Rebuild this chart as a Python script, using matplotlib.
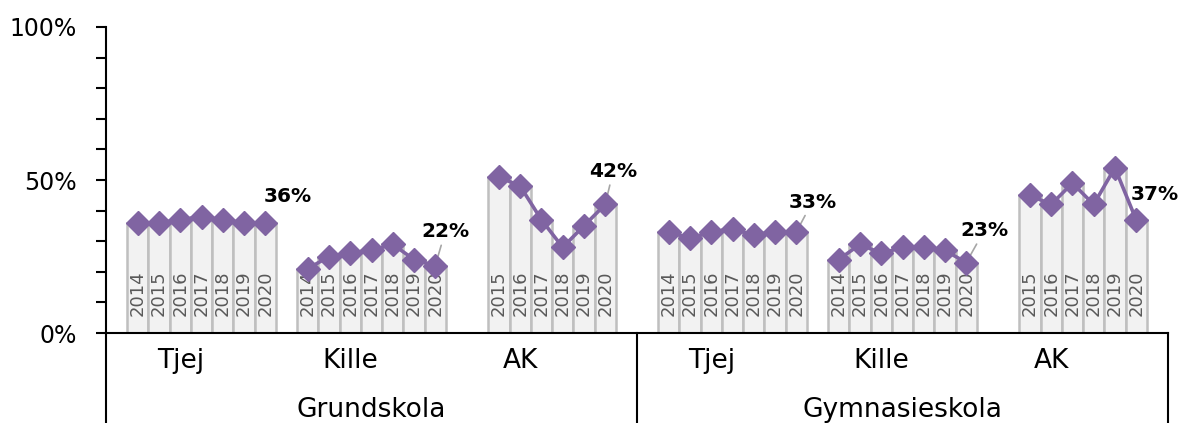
import matplotlib as mpl
mpl.use('Agg')
import matplotlib.pyplot as plt

schools = ['Grundskola', 'Gymnasieskola']
groups = ['Tjej', 'Kille', 'AK']

years_all = [2014, 2015, 2016, 2017, 2018, 2019, 2020]
years_ak = [2015, 2016, 2017, 2018, 2019, 2020]

# Grundskola
grund_tjej = [36, 36, 37, 38, 37, 36, 36]
grund_kille = [21, 25, 26, 27, 29, 24, 22]
grund_ak = [51, 48, 37, 28, 35, 42]

# Gymnasieskola
gymn_tjej = [33, 31, 33, 34, 32, 33, 33]
gymn_kille = [24, 29, 26, 28, 28, 27, 23]
gymn_ak = [45, 42, 49, 42, 54, 37]

series = [
    (0, 0, years_all, grund_tjej),
    (0, 1, years_all, grund_kille),
    (0, 2, years_ak, grund_ak),
    (1, 0, years_all, gymn_tjej),
    (1, 1, years_all, gymn_kille),
    (1, 2, years_ak, gymn_ak),
]

# label offsets (pixels) for the last value of each series
label_off = [(22, 26), (10, 34), (8, 33), (16, 30), (18, 32), (19, 25)]

purple = '#8064a2'
plt.rcParams['font.family'] = 'DejaVu Sans'

fig = plt.figure(figsize=(11.82, 4.23), dpi=100)
ax = fig.add_axes([106 / 1182, 90 / 423, 1062 / 1182, 306 / 423])

for k, (s, g, yrs, vals) in enumerate(series):
    xs = [25 * s + 1 + 8 * g + (y - 2014) + 0.5 for y in yrs]
    ax.bar(xs, vals, width=1.0, color='#f2f2f2', edgecolor='#bfbfbf',
           linewidth=1.8, zorder=1)
    for x, y in zip(xs, yrs):
        ax.text(x, 5.5, str(y), rotation=90, ha='center', va='bottom',
                fontsize=13, color='#595959', zorder=2)
    ax.plot(xs, vals, color=purple, lw=2.6, marker='D', ms=12, zorder=4)
    dx, dy = label_off[k]
    arrow = dict(arrowstyle='-', color='#a6a6a6', lw=1.2, shrinkA=1, shrinkB=0) if dy >= 30 else None
    ax.annotate(f'{vals[-1]}%', xy=(xs[-1], vals[-1]), xytext=(dx, dy),
                textcoords='offset pixels', ha='center', va='center',
                fontsize=14.5, fontweight='bold', color='black',
                arrowprops=arrow, zorder=3)

ax.set_xlim(0, 50)
ax.set_ylim(0, 100)
ax.set_yticks([0, 50, 100])
ax.set_yticks(range(0, 101, 10), minor=True)
ax.tick_params(axis='y', which='both', length=7, width=1.5, direction='out')
ax.tick_params(axis='y', which='major', labelsize=17, pad=14)
ax.set_yticklabels(['0%', '50%', '100%'], fontsize=17)
ax.set_xticks([])
for sp in ['top', 'right']:
    ax.spines[sp].set_visible(False)
ax.spines['left'].set_linewidth(1.5)
ax.spines['bottom'].set_linewidth(1.5)

# hierarchical category axis
for xv in [0, 25, 50]:
    ax.plot([xv, xv], [0, -30], color='black', lw=1.5, clip_on=False)
for s, school in enumerate(schools):
    for g, grp in enumerate(groups):
        ax.text(25 * s + 3.5 + 8 * g, -9.3, grp, ha='center', va='center', fontsize=19)
    ax.text(25 * s + 12.5, -25.3, school, ha='center', va='center', fontsize=19)

plt.savefig('out.png', dpi=100)
